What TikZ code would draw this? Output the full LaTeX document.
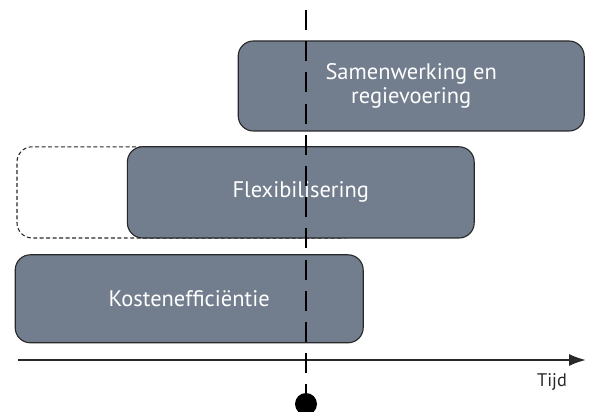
\documentclass[tikz,border=0pt]{standalone}
\usepackage{fontspec}
\setmainfont{PT Sans}
\usetikzlibrary{arrows.meta}
\definecolor{leigrijs}{RGB}{114,126,142}
\definecolor{randgrijs}{RGB}{40,40,40}

\begin{document}
\begin{tikzpicture}[
        blok/.style={draw=randgrijs, line width=0.8pt, fill=leigrijs,
            rounded corners=0.38cm, text=white, align=center, inner sep=0pt,
            font=\fontsize{16}{17.5}\selectfont},
        oudblok/.style={draw=randgrijs, line width=0.75pt, dash pattern=on 2.8pt off 1.8pt,
            rounded corners=0.38cm, inner sep=0pt}
    ]
    \useasboundingbox (0,0) rectangle (14.8,10.3);
    \node[oudblok, minimum width=8.53cm, minimum height=2.28cm] (oud) at (4.69,5.49) {};
    \node[blok, minimum width=8.7cm, minimum height=2.2cm] (kosten) at (4.73,2.83) {Kostenefficiëntie};
    \node[blok, minimum width=8.67cm, minimum height=2.28cm] (flex) at (7.52,5.49) {Flexibilisering};
    \node[blok, minimum width=8.65cm, minimum height=2.25cm] (samen) at (10.28,8.15) {Samenwerking en\\regievoering};
    \coordinate (begin) at (0.45,1.3);
    \coordinate (eind) at (14.65,1.3);
    \draw[-{Latex[length=0.42cm,width=0.3cm]}, line width=1.4pt, randgrijs] (begin) -- (eind);
    \node[text=randgrijs, font=\fontsize{13}{15}\selectfont] (tijd) at (13.8,0.75) {Tijd};
    \node[circle, fill=black, minimum size=0.55cm, inner sep=0pt] (nu) at (7.65,0.2) {};
    \coordinate (nutop) at (7.65,10.05);
    \draw[line width=1.8pt, dash pattern=on 0.5cm off 0.28cm] (nutop) -- (nu);
\end{tikzpicture}
\end{document}
